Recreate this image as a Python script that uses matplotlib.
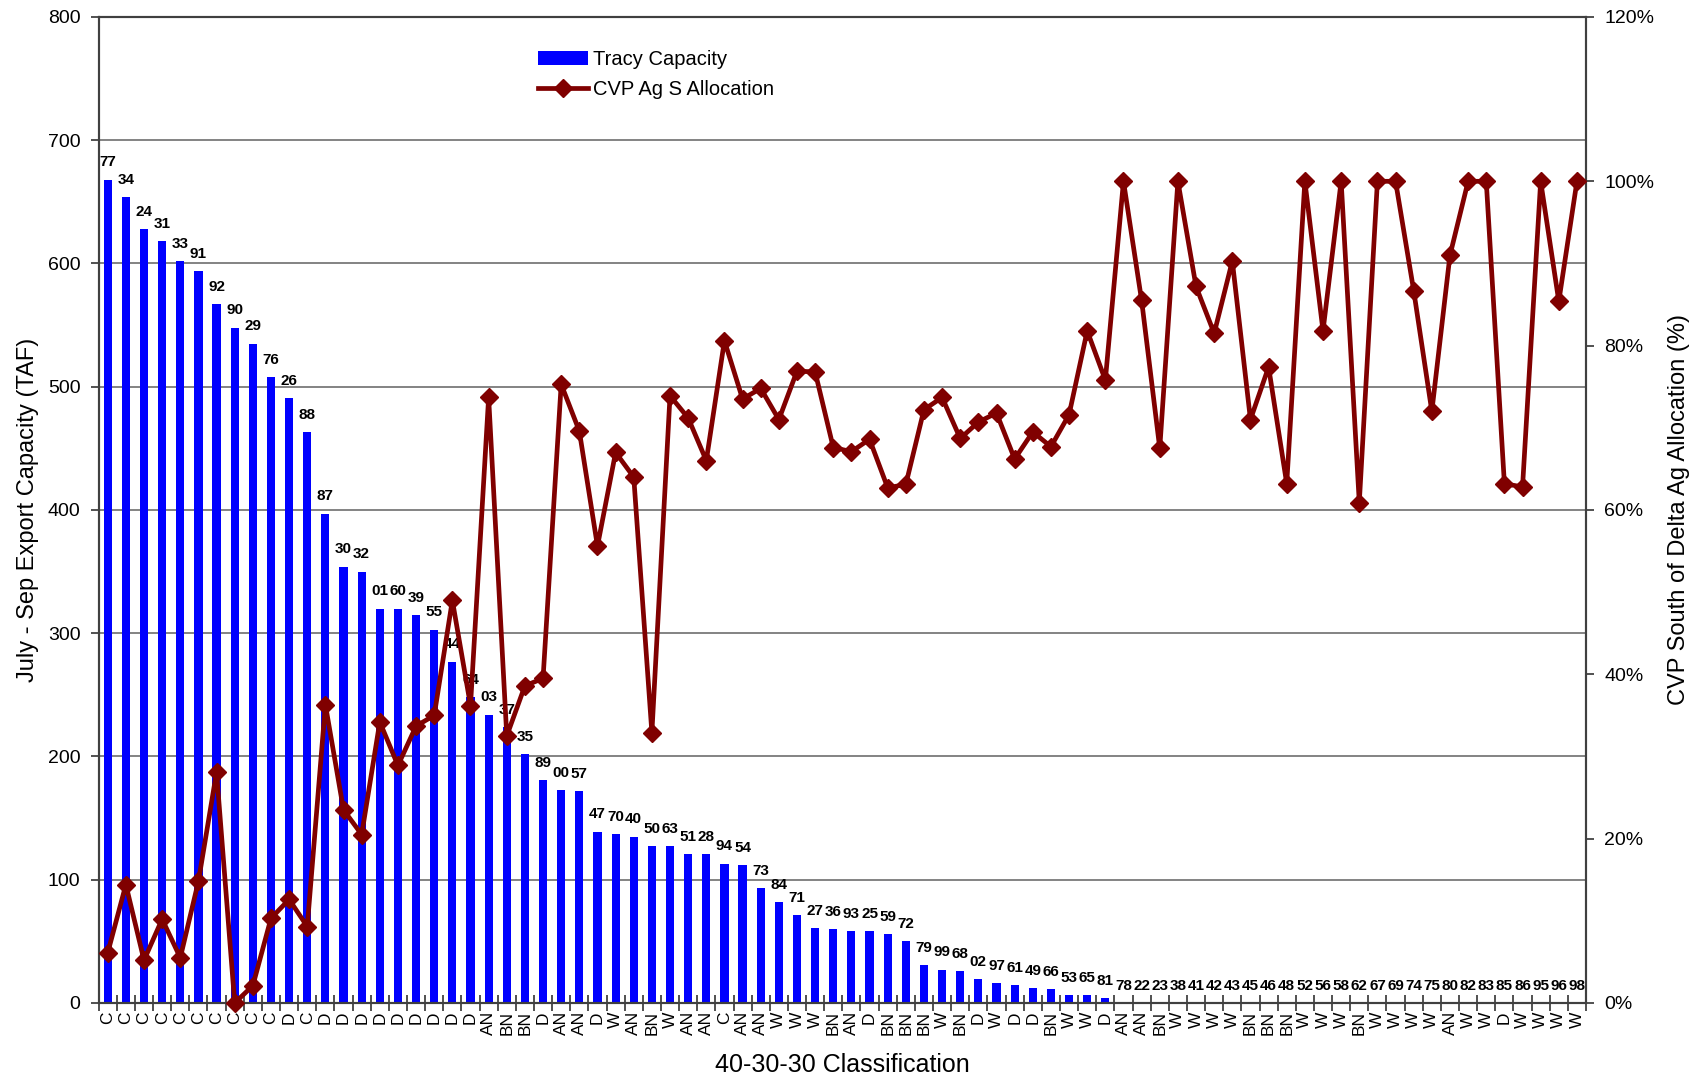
import matplotlib
matplotlib.use('Agg')
import matplotlib.pyplot as plt
import numpy as np
from matplotlib.ticker import MultipleLocator, NullFormatter, PercentFormatter
from matplotlib.lines import Line2D
from matplotlib.patches import Patch

plt.rcParams['font.family'] = ['Liberation Sans', 'DejaVu Sans']

# 40-30-30 classification of each year (sorted by Tracy capacity)
classes = ['C', 'C', 'C', 'C', 'C', 'C', 'C', 'C', 'C', 'C',
           'D', 'C', 'D', 'D', 'D', 'D', 'D', 'D', 'D', 'D',
           'D', 'AN', 'BN', 'BN', 'D', 'AN', 'AN', 'D', 'W', 'AN',
           'BN', 'W', 'AN', 'AN', 'C', 'AN', 'AN', 'W', 'W', 'W',
           'BN', 'AN', 'D', 'BN', 'BN', 'BN', 'W', 'BN', 'D', 'W',
           'D', 'D', 'BN', 'W', 'W', 'D', 'AN', 'AN', 'BN', 'W',
           'W', 'W', 'W', 'BN', 'BN', 'BN', 'W', 'W', 'W', 'BN',
           'W', 'W', 'W', 'W', 'AN', 'W', 'W', 'D', 'W', 'W',
           'W', 'W']

# two-digit year labels shown above the bars
years = ['77', '34', '24', '31', '33', '91', '92', '90', '29', '76',
         '26', '88', '87', '30', '32', '01', '60', '39', '55', '44',
         '64', '03', '37', '35', '89', '00', '57', '47', '70', '40',
         '50', '63', '51', '28', '94', '54', '73', '84', '71', '27',
         '36', '93', '25', '59', '72', '79', '99', '68', '02', '97',
         '61', '49', '66', '53', '65', '81', '78', '22', '23', '38',
         '41', '42', '43', '45', '46', '48', '52', '56', '58', '62',
         '67', '69', '74', '75', '80', '82', '83', '85', '86', '95',
         '96', '98']

# Tracy capacity (TAF)
capacity = [668, 654, 628, 618, 602, 594, 567, 548, 535, 508,
            491, 463, 397, 354, 350, 320, 320, 315, 303, 277,
            248, 234, 224, 202, 181, 173, 172, 139, 137, 135,
            127, 127, 121, 121, 113, 112, 93, 82, 71, 61,
            60, 58, 58, 56, 50, 31, 27, 26, 19.5, 16,
            14.5, 12, 11.5, 6.5, 6.5, 4, 0, 0, 0, 0,
            0, 0, 0, 0, 0, 0, 0, 0, 0, 0,
            0, 0, 0, 0, 0, 0, 0, 0, 0, 0,
            0, 0]

# CVP South of Delta Ag allocation (%)
allocation = [6.1, 14.4, 5.2, 10.2, 5.5, 14.8, 28.1, 0, 2.1, 10.3,
              12.6, 9.3, 36.3, 23.5, 20.5, 34.2, 28.9, 33.7, 35.0, 49.0,
              36.2, 73.7, 32.5, 38.6, 39.5, 75.3, 69.6, 55.6, 67.0, 64.0,
              32.9, 73.9, 71.2, 66.0, 80.6, 73.5, 74.8, 71.0, 76.9, 76.8,
              67.6, 67.1, 68.6, 62.7, 63.1, 72.2, 73.7, 68.7, 70.7, 71.8,
              66.2, 69.5, 67.7, 71.6, 81.8, 75.8, 100, 85.5, 67.5, 100,
              87.2, 81.5, 90.3, 71.0, 77.4, 63.2, 100, 81.8, 100, 60.9,
              100, 100, 86.7, 72.0, 91.0, 100, 100, 63.2, 62.8, 100,
              85.4, 100]

n = len(classes)
x = np.arange(1, n + 1)

fig = plt.figure(figsize=(17.01, 10.81), dpi=100)
ax = fig.add_axes([0.058, 0.0722, 0.8744, 0.9121])

ax.bar(x, capacity, width=0.45, color='#0000FF', zorder=2)
for xi, v, lab in zip(x, capacity, years):
    ax.annotate(lab, (xi, v), xytext=(0, 9.5), textcoords='offset points',
                ha='center', va='baseline', fontsize=11, fontweight='bold',
                color='black', zorder=3)

ax.set_xlim(0.5, n + 0.5)
ax.set_ylim(0, 800)
ax.yaxis.set_major_locator(MultipleLocator(100))
ax.grid(axis='y', color='#6e6e6e', lw=1.2, zorder=0)
ax.set_axisbelow(True)

ax.set_xticks(np.arange(0.5, n + 1, 1))
ax.xaxis.set_major_formatter(NullFormatter())
ax.tick_params(axis='x', which='major', direction='inout', length=11,
               width=1.2, color='#333333')
ax.set_xticks(x, minor=True)
ax.set_xticklabels(classes, minor=True, rotation=90, fontsize=12.5)
ax.tick_params(axis='x', which='minor', length=0, pad=6)
ax.tick_params(axis='y', direction='out', length=6, width=1.2,
               color='#333333', labelsize=14, pad=7)

for s in ax.spines.values():
    s.set_color('#404040')
    s.set_linewidth(1.5)

ax.set_ylabel('July - Sep Export Capacity (TAF)', fontsize=17, labelpad=6.5)
ax.set_xlabel('40-30-30 Classification', fontsize=18, labelpad=13)

ax2 = ax.twinx()
ax2.plot(x, allocation, color='#800000', lw=3.4, marker='D', ms=9,
         clip_on=False, zorder=4)
ax2.set_ylim(0, 120)
ax2.yaxis.set_major_locator(MultipleLocator(20))
ax2.yaxis.set_major_formatter(PercentFormatter(decimals=0))
ax2.tick_params(axis='y', direction='out', length=6, width=1.2,
                color='#333333', labelsize=14, pad=7)
for s in ax2.spines.values():
    s.set_color('#404040')
    s.set_linewidth(1.5)
ax2.set_ylabel('CVP South of Delta Ag Allocation (%)', fontsize=17,
               rotation=90, labelpad=10)

handles = [Patch(facecolor='#0000FF', edgecolor='none'),
           Line2D([], [], color='#800000', lw=3.4, marker='D', ms=9)]
ax2.legend(handles, ['Tracy Capacity', 'CVP Ag S Allocation'],
           loc='upper left', bbox_to_anchor=(0.3163, 0.9533),
           bbox_transform=fig.transFigure, frameon=False, fontsize=14.5,
           handlelength=2.5, handletextpad=0.25, labelspacing=0.53,
           borderpad=0, borderaxespad=0)

fig.savefig('out.png', dpi=100)
